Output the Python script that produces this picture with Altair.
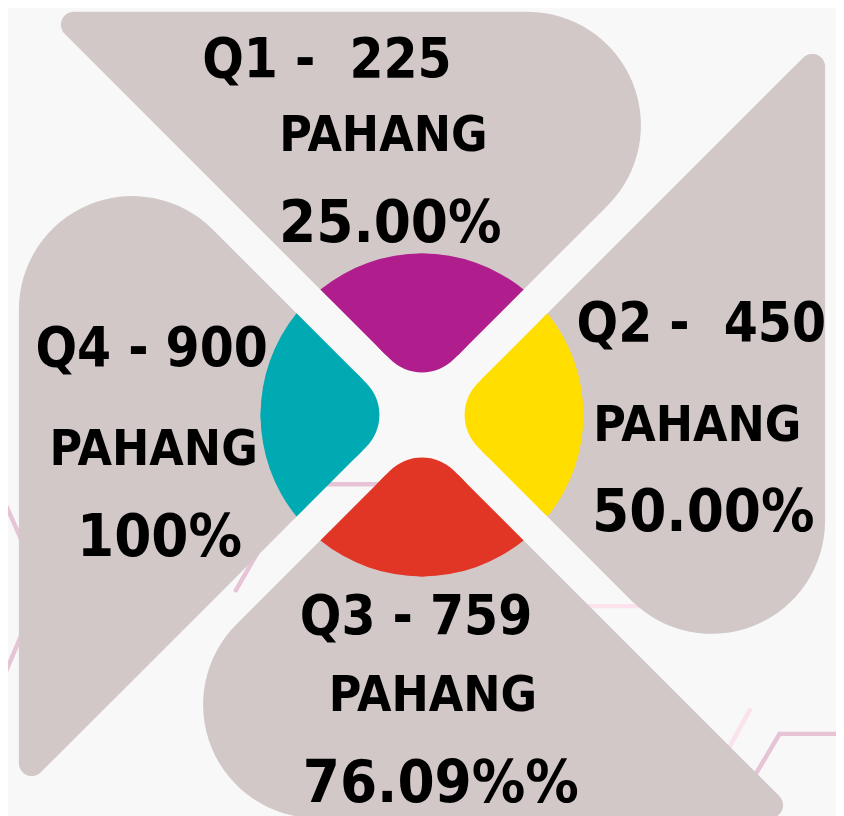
import math
import altair as alt
import pandas as pd

# ---------------- data ----------------
quarters = ["Q1", "Q2", "Q3", "Q4"]
totals = [225, 450, 759, 900]
headline_labels = ["Q1 -\u00a0 225", "Q2 -\u00a0 450", "Q3 - 759", "Q4 - 900"]
region_labels = ["PAHANG", "PAHANG", "PAHANG", "PAHANG"]
percent_labels = ["25.00%", "50.00%", "76.09%%", "100%"]
slice_shares = [1, 1, 1, 1]          # the pie shows four equal quadrants

# ---------------- styles ----------------
SLICE_COLORS = ["#b01e8e", "#ffde00", "#e13626", "#00aab2"]
PETAL = "#d2c8c8"
BG = "#f8f8f8"
PINK_DARK = "#e6c4d6"
PINK_LIGHT = "#fbe2ec"
FONT = "DejaVu Sans Condensed, sans-serif"

# ---------------- layout (page pixels) ----------------
PAGE_W, PAGE_H, MARGIN = 844, 816, 8
W, H = PAGE_W - MARGIN, PAGE_H - MARGIN
CX, CY = 426, 415          # centre of pinwheel / pie
EDGE_D = 407               # centre to straight outer edge of each petal
GAP_HALF = 17              # half width of the white X band
BIG_R = 114.5              # big rounded end of each petal
SMALL_R = 13               # small rounded corner of each petal
CUT_R = 150                # petal inner cut (hidden under the pie)
PIE_R = 163
TIP_R = 43                 # distance of the slice tips from the centre
SYM_HALF = 500             # half-size of the custom symbol box

LABEL_POS = {
    "headline": [(330, 54), (708, 320), (420, 616), (153, 346)],
    "region": [(387, 130), (704, 423), (437, 696), (155, 448)],
    "percent": [(394, 218), (710, 510), (445, 784), (161, 535)],
}
FONT_SIZES = {"headline": 55, "region": 50, "percent": 60}

PINK_SEGMENTS = [
    (0, 493, 30, 560, PINK_DARK),
    (30, 617, 0, 688, PINK_DARK),
    (238, 592, 300, 485, PINK_DARK),
    (300, 485, 440, 485, PINK_DARK),
    (745, 808, 787, 737, PINK_DARK),
    (787, 737, 850, 737, PINK_DARK),
    (560, 608, 700, 608, PINK_LIGHT),
    (757, 713, 720, 780, PINK_LIGHT),
]

xs = alt.Scale(domain=[MARGIN, PAGE_W])
ys = alt.Scale(domain=[MARGIN, PAGE_H], reverse=True)


# ---------------- petal geometry ----------------
def _unit(x, y):
    n = math.hypot(x, y)
    return x / n, y / n


def fillet(p0, p1, p2, r, n=32):
    d1 = _unit(p1[0] - p0[0], p1[1] - p0[1])
    d2 = _unit(p2[0] - p1[0], p2[1] - p1[1])
    cos_t = -(d1[0] * d2[0] + d1[1] * d2[1])
    theta = math.acos(max(-1.0, min(1.0, cos_t)))
    t = r / math.tan(theta / 2)
    t1 = (p1[0] - d1[0] * t, p1[1] - d1[1] * t)
    t2 = (p1[0] + d2[0] * t, p1[1] + d2[1] * t)
    b = _unit(-d1[0] + d2[0], -d1[1] + d2[1])
    dist = r / math.sin(theta / 2)
    c = (p1[0] + b[0] * dist, p1[1] + b[1] * dist)
    a1 = math.atan2(t1[1] - c[1], t1[0] - c[0])
    a2 = math.atan2(t2[1] - c[1], t2[0] - c[0])
    da = (a2 - a1 + math.pi) % (2 * math.pi) - math.pi
    return [(c[0] + r * math.cos(a1 + da * k / n), c[1] + r * math.sin(a1 + da * k / n))
            for k in range(n + 1)]


def petal_local():
    s = GAP_HALF * math.sqrt(2)
    a = (-s + math.sqrt(2 * CUT_R ** 2 - s ** 2)) / 2
    inner_l = (-a, a + s)
    inner_r = (a, a + s)
    lv = (-(EDGE_D - s), EDGE_D)
    rv = (EDGE_D - s, EDGE_D)
    pts = [inner_r]
    pts += fillet(inner_r, rv, lv, BIG_R)
    pts += fillet(rv, lv, inner_l, SMALL_R)
    pts.append(inner_l)
    al = math.atan2(inner_l[1], inner_l[0])
    ar = math.atan2(inner_r[1], inner_r[0])
    n = 24
    pts += [(CUT_R * math.cos(al + (ar - al) * k / n), CUT_R * math.sin(al + (ar - al) * k / n))
            for k in range(1, n)]
    return pts


def rot(p, k):
    u, v = p
    for _ in range(k):
        u, v = v, -u
    return u, v


def petal_path(k):
    pts = [rot(p, k) for p in petal_local()]
    return "M" + " L".join(f"{u / SYM_HALF:.5f},{-v / SYM_HALF:.5f}" for u, v in pts) + " Z"


petal_paths = [petal_path(k) for k in range(4)]

# ---------------- layers ----------------
seg_df = pd.DataFrame(PINK_SEGMENTS, columns=["x", "y", "x2", "y2", "c"])
pink = alt.Chart(seg_df).mark_rule(strokeWidth=4.5, strokeCap="round").encode(
    x=alt.X("x:Q", scale=xs, axis=None),
    y=alt.Y("y:Q", scale=ys, axis=None),
    x2="x2:Q",
    y2="y2:Q",
    color=alt.Color("c:N", scale=None),
)

petal_df = pd.DataFrame({"quarter": quarters})
petals = alt.Chart(petal_df).mark_point(
    filled=True, opacity=1, strokeWidth=0, size=(2 * SYM_HALF) ** 2, color=PETAL
).encode(
    x=alt.XDatum(CX, scale=xs, axis=None),
    y=alt.YDatum(CY, scale=ys, axis=None),
    shape=alt.Shape("quarter:N", scale=alt.Scale(domain=quarters, range=petal_paths), legend=None),
)

pie_df = pd.DataFrame({"quarter": quarters, "share": slice_shares, "order": list(range(4))})


def pie_layer(r_in, corner=None):
    pad = 2 * math.asin(GAP_HALF / math.hypot(r_in, PIE_R))
    kw = dict(radius=PIE_R, radius2=r_in, padAngle=pad)
    if corner:
        kw["cornerRadius"] = corner
    return alt.Chart(pie_df).mark_arc(**kw).encode(
        theta=alt.Theta("share:Q", stack=True,
                        scale=alt.Scale(range=[7 * math.pi / 4, 15 * math.pi / 4])),
        color=alt.Color("quarter:N", scale=alt.Scale(domain=quarters, range=SLICE_COLORS), legend=None),
        order=alt.Order("order:Q"),
        x=alt.XDatum(CX, scale=xs, axis=None),
        y=alt.YDatum(CY, scale=ys, axis=None),
    )


pie_tips = pie_layer(TIP_R, corner=60)
pie_outer = pie_layer(70)


def text_layer(kind, labels):
    fs = FONT_SIZES[kind]
    df = pd.DataFrame({
        "quarter": quarters,
        "total": totals,
        "label": labels,
        "x": [p[0] for p in LABEL_POS[kind]],
        "y": [p[1] for p in LABEL_POS[kind]],
    })
    return alt.Chart(df).mark_text(
        font=FONT, fontWeight="bold", fontSize=fs, align="center",
        baseline="alphabetic", dy=round(0.364 * fs), color="#000000",
    ).encode(
        x=alt.X("x:Q", scale=xs, axis=None),
        y=alt.Y("y:Q", scale=ys, axis=None),
        text="label:N",
    )


texts = [
    text_layer("headline", headline_labels),
    text_layer("region", region_labels),
    text_layer("percent", percent_labels),
]

chart = alt.layer(pink, petals, pie_tips, pie_outer, *texts).properties(
    width=W, height=H, padding=0,
    autosize=alt.AutoSizeParams(type="none"),
    background=BG,
).configure_view(stroke=None, fill=BG)

chart.save("out.html", embed_options={"renderer": "svg", "actions": False})
